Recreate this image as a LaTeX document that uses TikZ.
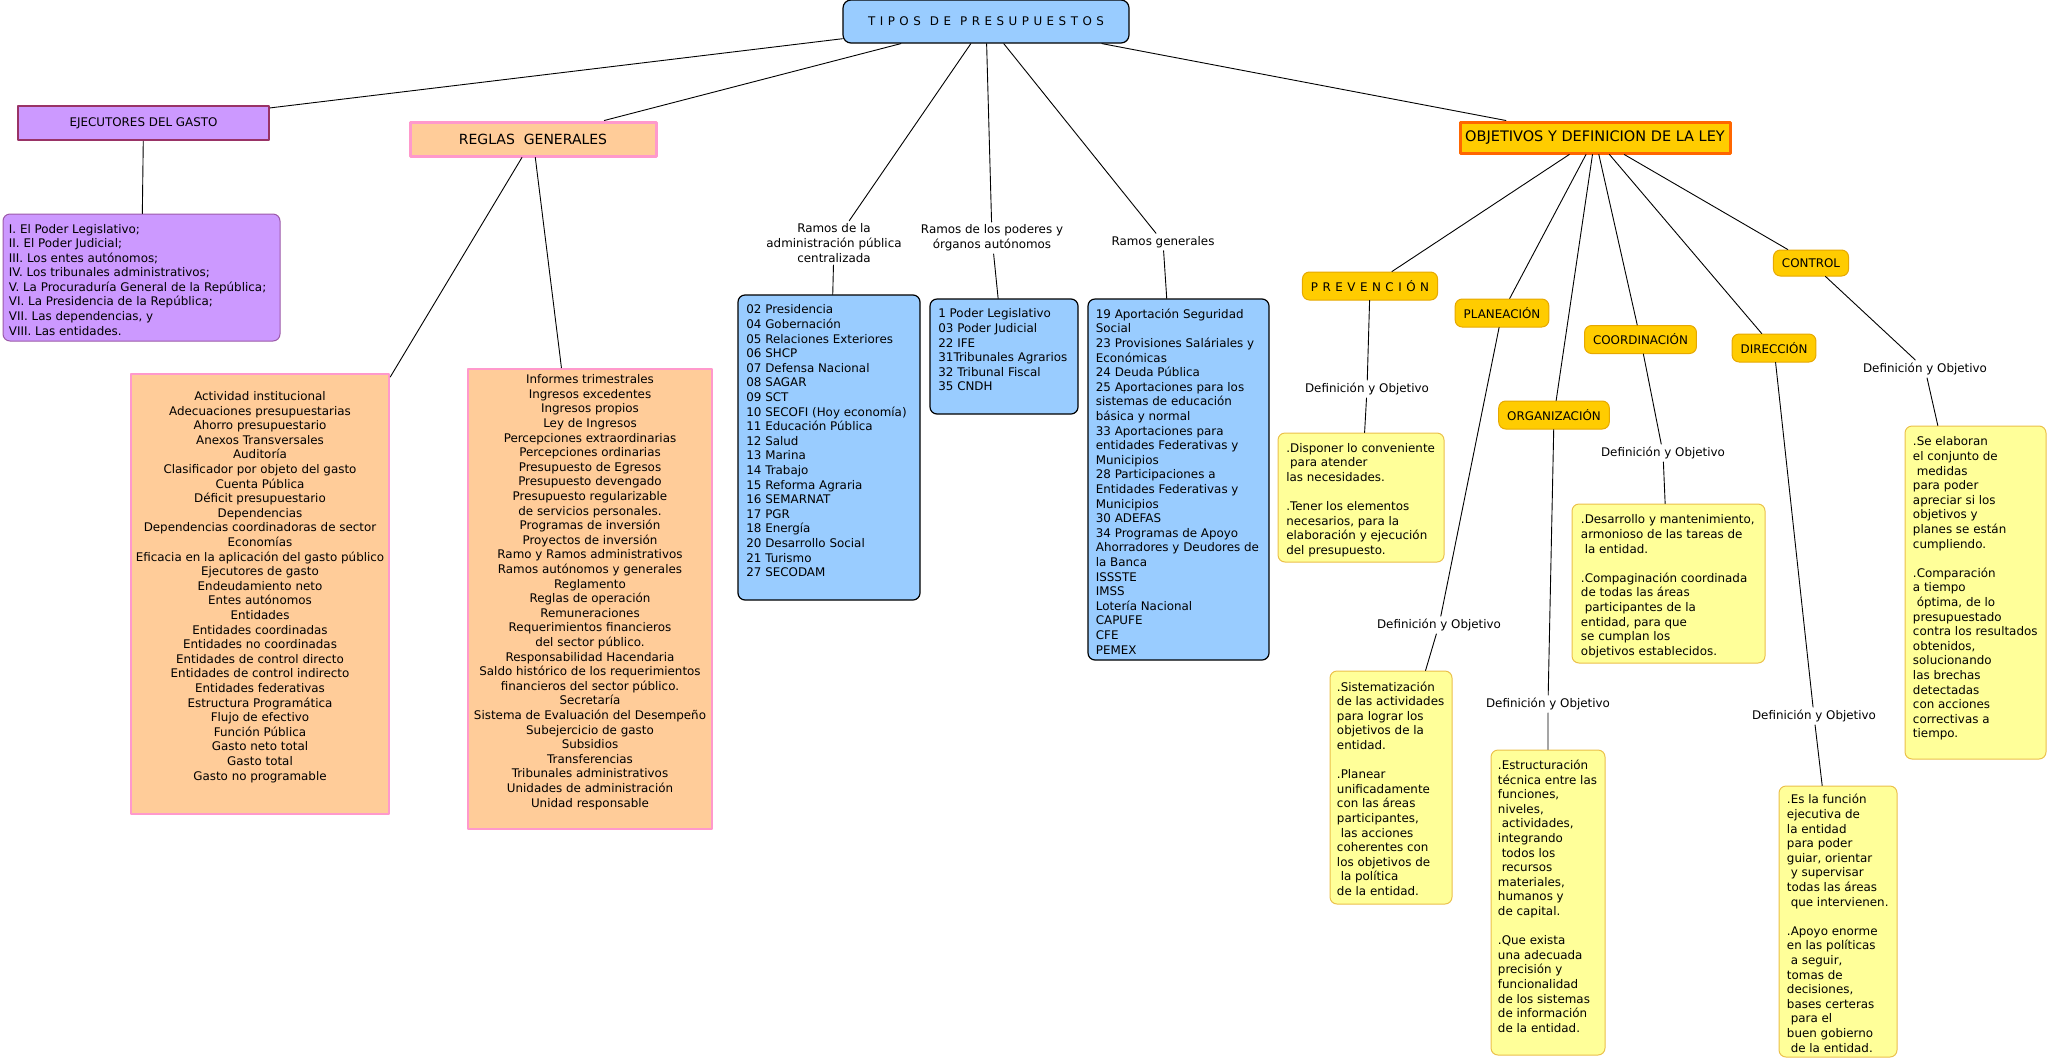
\documentclass[tikz,border=0pt]{standalone}
\usepackage{fontspec}
\setmainfont{DejaVu Sans}
\definecolor{lila}{HTML}{CC99FF}
\definecolor{ciruela}{HTML}{993366}
\definecolor{lilaborde}{HTML}{9C5AA8}
\definecolor{durazno}{HTML}{FFCC99}
\definecolor{rosa}{HTML}{FF99CC}
\definecolor{celeste}{HTML}{99CCFF}
\definecolor{oro}{HTML}{FFCC00}
\definecolor{ocre}{HTML}{E6A800}
\definecolor{crema}{HTML}{FFFF99}
\definecolor{dorado}{HTML}{EBC04A}
\definecolor{naranja}{HTML}{FF6600}
\newcommand\boxfont{\fontsize{11.9pt}{14.6pt}\selectfont}
\newcommand\espaciado{\spaceskip=4.5pt\relax}
\begin{document}
\begin{tikzpicture}[x=1pt,y=-1pt,line join=round,line cap=round,font=\boxfont,line width=0.9pt,
	every node/.style={inner sep=0pt},
	titulo/.style={draw=black,fill=celeste,rounded corners=8pt,line width=1.2pt,minimum width=286pt,minimum height=43pt},
	ejec/.style={draw=ciruela,fill=lila,line width=2.5pt,minimum width=251pt,minimum height=34pt},
	regla/.style={draw=rosa,fill=durazno,line width=3pt},
	ley/.style={draw=naranja,fill=oro,line width=3pt,minimum width=270pt,minimum height=31pt,font=\fontsize{14.5pt}{16pt}\selectfont},
	sub/.style={draw=ocre,fill=oro,rounded corners=7pt,line width=1pt,minimum height=28pt,inner xsep=8.5pt},
	azul/.style={draw=black,fill=celeste,rounded corners=7pt,line width=1.2pt},
	amar/.style={draw=dorado,fill=crema,rounded corners=7pt,line width=1pt},
	lilac/.style={draw=lilaborde,fill=lila,rounded corners=7pt,line width=1pt},
	txt/.style={anchor=north west,align=left},
	ctxt/.style={anchor=north,align=center},
	etiq/.style={inner sep=2.5pt,align=center}]
	\useasboundingbox (0,0) rectangle (2049,1061);

	\node[titulo] (tp) at (986,21.5) {\espaciado T I P O S\ \ D E\ \ P R E S U P U E S T O S};
	\node[ejec] (ej) at (143.5,123) {EJECUTORES DEL GASTO};
	\node[regla,minimum width=246pt,minimum height=34pt,font=\fontsize{14pt}{16pt}\selectfont] (rg) at (533,139) {REGLAS\ \ GENERALES};
	\node[ley] (ley) at (1595,137.5) {OBJETIVOS Y DEFINICION DE LA LEY};

	\node[etiq] (radm) at (834,243) {Ramos de la\\administración pública\\centralizada};
	\node[etiq] (rpod) at (992,238) {Ramos de los poderes y\\órganos autónomos};
	\node[etiq] (rgen) at (1163,242) {Ramos generales};

	\node[lilac,minimum width=277pt,minimum height=127pt] (ejl) at (141.5,277.5) {};
	\node[regla,line width=2.5pt,minimum width=258pt,minimum height=440pt] (or1) at (260,594) {};
	\node[regla,line width=2.5pt,minimum width=244pt,minimum height=460pt] (or2) at (590,599) {};
	\node[azul,minimum width=182pt,minimum height=305pt] (bl1) at (829,447.5) {};
	\node[azul,minimum width=148pt,minimum height=115pt] (bl2) at (1004,356.5) {};
	\node[azul,minimum width=181pt,minimum height=361pt] (bl3) at (1178.5,479.5) {};

	\node[sub] (prev) at (1370,286) {\espaciado P R E V E N C I Ó N};
	\node[sub] (plan) at (1502,313) {PLANEACIÓN};
	\node[sub] (org) at (1554,415) {ORGANIZACIÓN};
	\node[sub] (coord) at (1640.5,339.5) {COORDINACIÓN};
	\node[sub] (dir) at (1774,348) {DIRECCIÓN};
	\node[sub,minimum height=26pt] (ctrl) at (1811,263) {CONTROL};

	\node[etiq] (dprev) at (1367,389) {Definición y Objetivo};
	\node[etiq] (dplan) at (1439,625) {Definición y Objetivo};
	\node[etiq] (dorg) at (1548,704) {Definición y Objetivo};
	\node[etiq] (dcoord) at (1663,453) {Definición y Objetivo};
	\node[etiq] (ddir) at (1814,716) {Definición y Objetivo};
	\node[etiq] (dctrl) at (1925,369) {Definición y Objetivo};

	\node[amar,minimum width=166pt,minimum height=129pt] (yprev) at (1361,497.5) {};
	\node[amar,minimum width=122pt,minimum height=233pt] (yplan) at (1391,787.5) {};
	\node[amar,minimum width=114pt,minimum height=305pt] (yorg) at (1548,902.5) {};
	\node[amar,minimum width=193pt,minimum height=159pt] (ycoord) at (1668.5,583.5) {};
	\node[amar,minimum width=118pt,minimum height=271pt] (ydir) at (1838,921.5) {};
	\node[amar,minimum width=141pt,minimum height=333pt] (yctrl) at (1975.5,592.5) {};

	\draw (tp) -- (ej) (tp) -- (rg) (tp) -- (radm) (tp) -- (rpod) (tp) -- (rgen) (tp) -- (ley)
	(ej) -- (ejl) (rg) -- (or1) (rg) -- (or2)
	(radm) -- (bl1) (rpod) -- (bl2) (rgen) -- (bl3)
	(ley) -- (prev) (ley) -- (plan) (ley) -- (org) (ley) -- (coord) (ley) -- (dir) (ley) -- (ctrl)
	(prev) -- (dprev) (dprev) -- (yprev)
	(plan) -- (dplan) (dplan) -- (yplan)
	(org) -- (dorg) (dorg) -- (yorg)
	(coord) -- (dcoord) (dcoord) -- (ycoord)
	(dir) -- (ddir) (ddir) -- (ydir)
	(ctrl) -- (dctrl) (dctrl) -- (yctrl);

	\node[txt] (ejlt) at ([xshift=6pt,yshift=-10pt]ejl.north west) {I. El Poder Legislativo;\\II. El Poder Judicial;\\III. Los entes autónomos;\\IV. Los tribunales administrativos;\\V. La Procuraduría General de la República;\\VI. La Presidencia de la República;\\VII. Las dependencias, y\\VIII. Las entidades.};
	\node[ctxt] (or1t) at ([yshift=-18.3pt]or1.north) {Actividad institucional\\Adecuaciones presupuestarias\\Ahorro presupuestario\\Anexos Transversales\\Auditoría\\Clasificador por objeto del gasto\\Cuenta Pública\\Déficit presupuestario\\Dependencias\\Dependencias coordinadoras de sector\\Economías\\Eficacia en la aplicación del gasto público\\Ejecutores de gasto\\Endeudamiento neto\\Entes autónomos\\Entidades\\Entidades coordinadas\\Entidades no coordinadas\\Entidades de control directo\\Entidades de control indirecto\\Entidades federativas\\Estructura Programática\\Flujo de efectivo\\Función Pública\\Gasto neto total\\Gasto total\\Gasto no programable};
	\node[ctxt] (or2t) at ([yshift=-6.5pt]or2.north) {Informes trimestrales\\Ingresos excedentes\\Ingresos propios\\Ley de Ingresos\\Percepciones extraordinarias\\Percepciones ordinarias\\Presupuesto de Egresos\\Presupuesto devengado\\Presupuesto regularizable\\de servicios personales.\\Programas de inversión\\Proyectos de inversión\\Ramo y Ramos administrativos\\Ramos autónomos y generales\\Reglamento\\Reglas de operación\\Remuneraciones\\Requerimientos financieros\\del sector público.\\Responsabilidad Hacendaria\\Saldo histórico de los requerimientos\\financieros del sector público.\\Secretaría\\Sistema de Evaluación del Desempeño\\Subejercicio de gasto\\Subsidios\\Transferencias\\Tribunales administrativos\\Unidades de administración\\Unidad responsable};
	\node[txt] (bl1t) at ([xshift=8.5pt,yshift=-10pt]bl1.north west) {02 Presidencia\\04 Gobernación\\05 Relaciones Exteriores\\06 SHCP\\07 Defensa Nacional\\08 SAGAR\\09 SCT\\10 SECOFI (Hoy economía)\\11 Educación Pública\\12 Salud\\13 Marina\\14 Trabajo\\15 Reforma Agraria\\16 SEMARNAT\\17 PGR\\18 Energía\\20 Desarrollo Social\\21 Turismo\\27 SECODAM};
	\node[txt] (bl2t) at ([xshift=8.5pt,yshift=-10pt]bl2.north west) {1 Poder Legislativo\\03 Poder Judicial\\22 IFE\\31Tribunales Agrarios\\32 Tribunal Fiscal\\35 CNDH};
	\node[txt] (bl3t) at ([xshift=8pt,yshift=-10pt]bl3.north west) {19 Aportación Seguridad\\Social\\23 Provisiones Saláriales y\\Económicas\\24 Deuda Pública\\25 Aportaciones para los\\sistemas de educación\\básica y normal\\33 Aportaciones para\\entidades Federativas y\\Municipios\\28 Participaciones a\\Entidades Federativas y\\Municipios\\30 ADEFAS\\34 Programas de Apoyo\\Ahorradores y Deudores de\\la Banca\\ISSSTE\\IMSS\\Lotería Nacional\\CAPUFE\\CFE\\PEMEX};

	\node[txt] (yprevt) at ([xshift=8.4pt,yshift=-10pt]yprev.north west) {.Disponer lo conveniente\\\ para atender\\las necesidades.\\[14.6pt].Tener los elementos\\necesarios, para la\\elaboración y ejecución\\del presupuesto.};
	\node[txt] (yplant) at ([xshift=7pt,yshift=-10.6pt]yplan.north west) {.Sistematización\\de las actividades\\para lograr los\\objetivos de la\\entidad.\\[14.6pt].Planear\\unificadamente\\con las áreas\\participantes,\\\ las acciones\\coherentes con\\los objetivos de\\\ la política\\de la entidad.};
	\node[txt] (yorgt) at ([xshift=7pt,yshift=-10pt]yorg.north west) {.Estructuración\\técnica entre las\\funciones,\\niveles,\\\ actividades,\\integrando\\\ todos los\\\ recursos\\materiales,\\humanos y\\de capital.\\[14.6pt].Que exista\\una adecuada\\precisión y\\funcionalidad\\de los sistemas\\de información\\de la entidad.};
	\node[txt] (ycoordt) at ([xshift=9pt,yshift=-10.8pt]ycoord.north west) {.Desarrollo y mantenimiento,\\armonioso de las tareas de\\\ la entidad.\\[14.6pt].Compaginación coordinada\\de todas las áreas\\\ participantes de la\\entidad, para que\\se cumplan los\\objetivos establecidos.};
	\node[txt] (ydirt) at ([xshift=8pt,yshift=-8.4pt]ydir.north west) {.Es la función\\ejecutiva de\\la entidad\\para poder\\guiar, orientar\\\ y supervisar\\todas las áreas\\\ que intervienen.\\[14.6pt].Apoyo enorme\\en las políticas\\\ a seguir,\\tomas de\\decisiones,\\bases certeras\\\ para el\\buen gobierno\\\ de la entidad.};
	\node[txt] (yctrlt) at ([xshift=8pt,yshift=-10.8pt]yctrl.north west) {.Se elaboran\\el conjunto de\\\ medidas\\para poder\\apreciar si los\\objetivos y\\planes se están\\cumpliendo.\\[14.6pt].Comparación\\a tiempo\\\ óptima, de lo\\presupuestado\\contra los resultados\\obtenidos,\\solucionando\\las brechas\\detectadas\\con acciones\\correctivas a\\tiempo.};
\end{tikzpicture}
\end{document}
